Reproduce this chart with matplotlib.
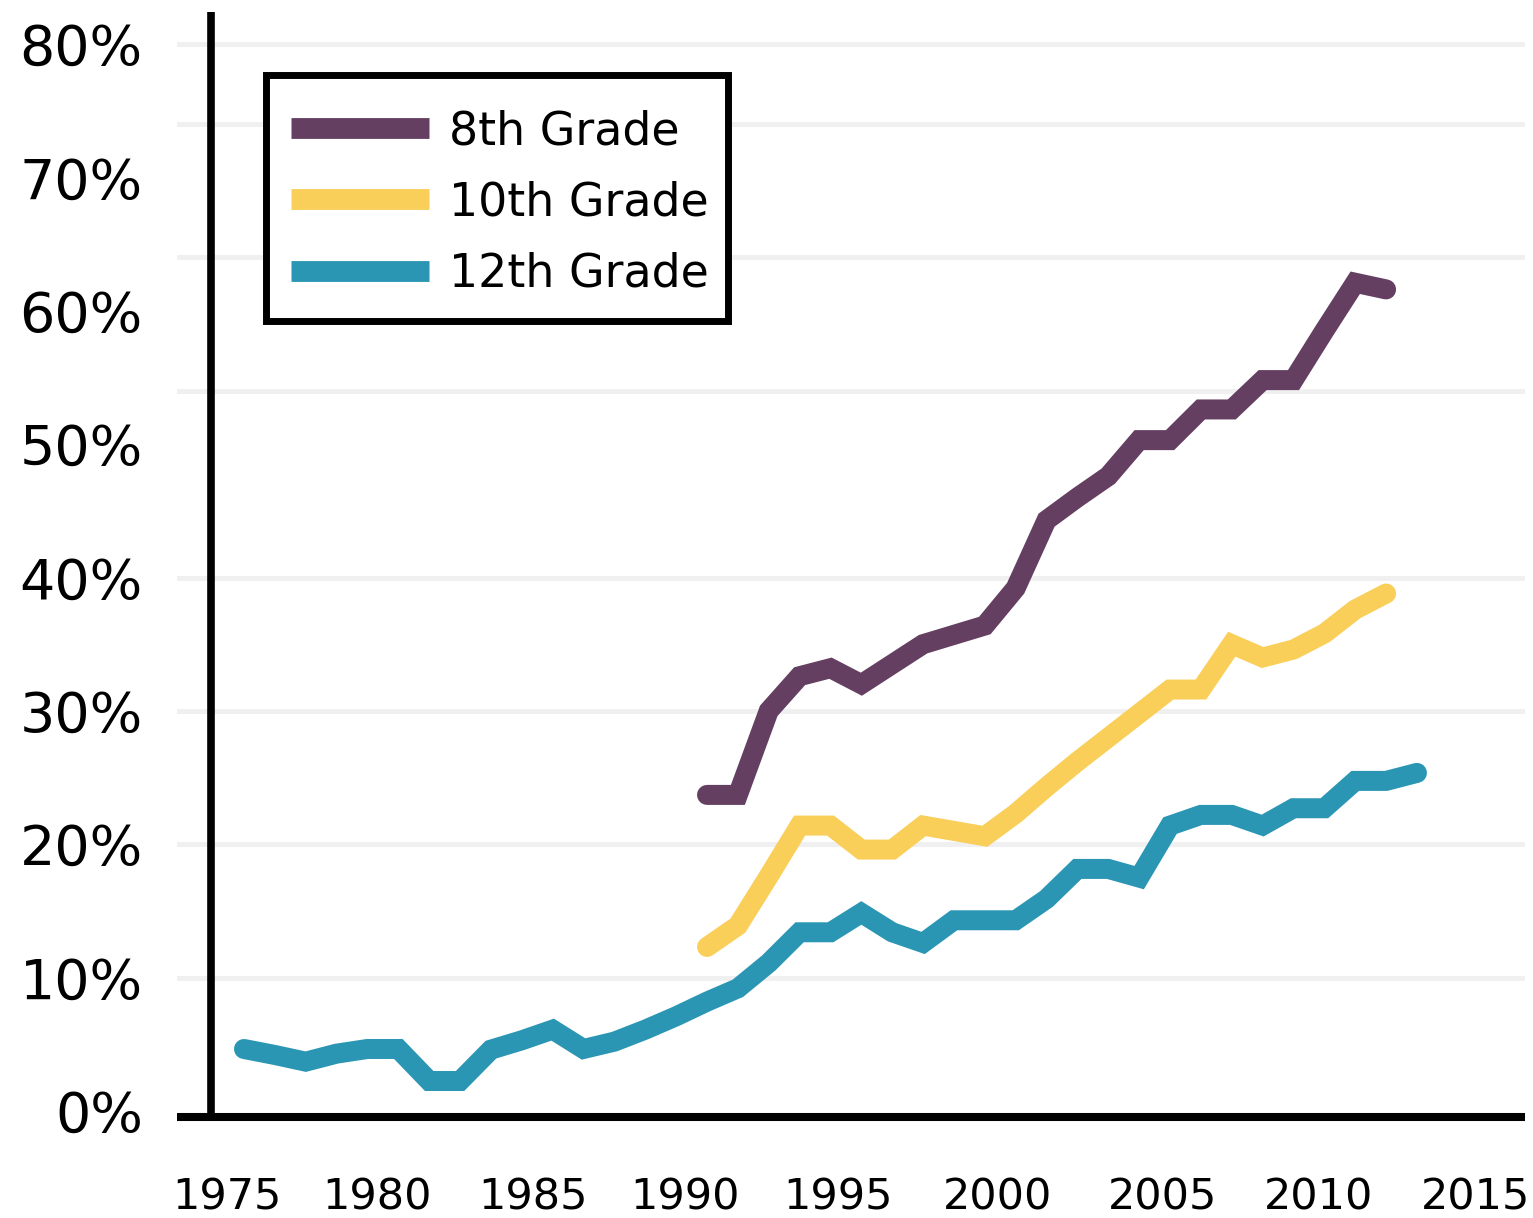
import matplotlib
matplotlib.use("Agg")
import matplotlib.pyplot as plt
from matplotlib.lines import Line2D
from matplotlib.patches import Rectangle

plt.rcParams['font.family'] = ['DejaVu Sans']

# ---------------- data ----------------
years_12 = list(range(1975, 2014))
grade_12 = [4.65, 4.2, 3.7, 4.3, 4.65, 4.65, 2.25, 2.25, 4.6, 5.3,
            6.1, 4.65, 5.2, 6.1, 7.1, 8.2, 9.2, 11.1, 13.4, 13.4,
            14.85, 13.4, 12.6, 14.3, 14.3, 14.3, 15.9, 18.15, 18.15, 17.5,
            21.4, 22.2, 22.2, 21.4, 22.7, 22.7, 24.75, 24.75, 25.35]

years_8_10 = list(range(1990, 2013))
grade_8 = [23.7, 23.7, 30.0, 32.6, 33.2, 32.0, 33.5, 35.0, 35.7, 36.4,
           39.2, 44.3, 46.0, 47.6, 50.3, 50.3, 52.6, 52.6, 54.8, 54.8,
           58.5, 62.1, 61.6]
grade_10 = [12.3, 13.9, 17.6, 21.4, 21.4, 19.6, 19.6, 21.4, 21.0, 20.6,
            22.3, 24.3, 26.2, 28.0, 29.8, 31.6, 31.6, 35.0, 34.0, 34.6,
            35.8, 37.6, 38.8]

series_labels = ["8th Grade", "10th Grade", "12th Grade"]
series_colors = ["#643F61", "#F9CF59", "#2A96B3"]

y_ticks = [0, 10, 20, 30, 40, 50, 60, 70, 80]
y_tick_labels = ["0%", "10%", "20%", "30%", "40%", "50%", "60%", "70%", "80%"]
grid_levels = [80, 74, 64, 54, 40, 30, 20, 10]

x_tick_labels = ["1975", "1980", "1985", "1990", "1995", "2000", "2005", "2010", "2015"]
x_tick_years = [1975, 1980, 1985, 1990, 1995, 2000, 2005, 2010, 2015]
x_tick_shift = [-0.55, -0.7, -0.65, -0.7, -0.75, -0.6, -0.25, -0.2, -0.1]

# ---------------- figure ----------------
W, H = 1533, 1218
fig = plt.figure(figsize=(W/100, H/100), dpi=100)
ax = fig.add_axes([177/W, 1 - 1117/H, (1525 - 177)/W, (1117 - 12)/H])
ax.set_xlim(1972.83, 2016.5)
ax.set_ylim(-0.45, 82.4)

for g in grid_levels:
    ax.axhline(g, color="#f0f0f0", lw=3.6, zorder=0)

lw = 14.4
for yrs, vals, col in [(years_8_10, grade_8, series_colors[0]),
                       (years_8_10, grade_10, series_colors[1]),
                       (years_12, grade_12, series_colors[2])]:
    ax.plot(yrs, vals, color=col, lw=lw, solid_capstyle="round",
            solid_joinstyle="miter", zorder=3, clip_on=False)

for s in ["top", "right"]:
    ax.spines[s].set_visible(False)
ax.spines["left"].set_position(("data", 1973.93))
ax.spines["left"].set_linewidth(5.5)
ax.spines["bottom"].set_linewidth(5.8)
ax.spines["left"].set_capstyle("butt")
ax.spines["bottom"].set_capstyle("butt")

ax.set_yticks(y_ticks)
ax.set_yticklabels(y_tick_labels, fontsize=40)
ax.set_xticks([y + s for y, s in zip(x_tick_years, x_tick_shift)])
ax.set_xticklabels(x_tick_labels, fontsize=31)
ax.tick_params(axis="y", length=0, pad=49)
ax.tick_params(axis="x", length=0, pad=43)

# legend box
box = Rectangle((265.5/W, 1 - 321.5/H), (727.5 - 265.5)/W, (321.5 - 75.5)/H,
                transform=fig.transFigure, facecolor="white", edgecolor="black",
                lw=5.0, zorder=4, clip_on=False)
ax.add_patch(box)

handles = [Line2D([0], [0], color=c, lw=15, solid_capstyle="butt") for c in series_colors]
leg = ax.legend(handles, series_labels, loc="center left",
                bbox_to_anchor=(291/W, 1 - 203/H),
                bbox_transform=fig.transFigure, frameon=False, fontsize=33,
                handlelength=3.0, handletextpad=0.45, borderpad=0,
                labelspacing=0.57, borderaxespad=0)
leg.set_zorder(5)

fig.savefig("out.png", dpi=100, facecolor="white")
